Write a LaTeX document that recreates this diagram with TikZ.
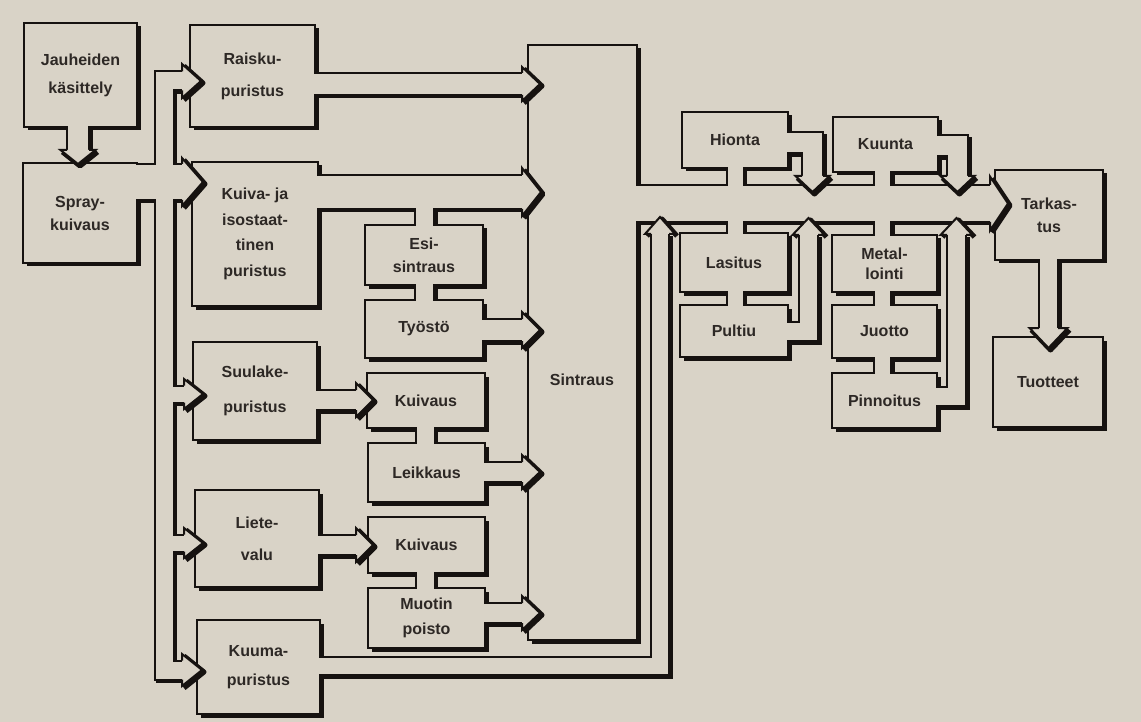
\documentclass[tikz,border=0pt]{standalone}
\usepackage{fontspec}
\setmainfont{Liberation Sans}
\usetikzlibrary{shadows}
\definecolor{paper}{RGB}{217,211,199}
\definecolor{ink}{RGB}{22,18,16}
\definecolor{txt}{RGB}{45,40,37}
\pgfdeclarelayer{pipeA}\pgfdeclarelayer{pipeB}\pgfdeclarelayer{pipeD}\pgfdeclarelayer{arrows}
\pgfsetlayers{pipeA,pipeB,main,pipeD,arrows}
\newcommand\txtfont[1]{\bfseries\fontsize{16}{#1}\selectfont}
\newcommand\mybox[7][24]{%
 \pgfmathsetmacro\bw{#5-#3}\pgfmathsetmacro\bh{#6-#4}%
 \node[box, font={\txtfont{#1}}, minimum width=\bw pt, minimum height=\bh pt] (#2) at ({(#3+#5)/2},{(#4+#6)/2}) {#7};}
\newcommand\myhead[6]{%
 \draw[ink, line width=5pt, line join=round, shift={(#1+2,#2+2)}, rotate=#3] (0,-#5) -- (#6,0) -- (0,#5);
 \fill[paper, shift={(#1,#2)}, rotate=#3] (0,-#5) -- (#6,0) -- (0,#5) -- cycle;
 \draw[wall, shift={(#1,#2)}, rotate=#3] (0,-#4-1) -- (0,-#5) -- (#6,0) -- (0,#5) -- (0,#4+1);}
\def\allpipes{%
 \pq{20}{(78,118) -- (78,150)}%
 \pq{34}{(128,182) -- (182,182)}%
 \pq{17}{(182,81) -- (164,81) -- (164,670) -- (182,670)}%
 \pq{15}{(164,394) -- (184,394)}%
 \pq{15}{(164,543) -- (184,543)}%
 \pq{20}{(307,84) -- (522,84)}%
 \pq{32}{(310,192) -- (522,192)}%
 \pq{17}{(424.5,200) -- (424.5,232)}%
 \pq{17}{(424.5,278) -- (424.5,307)}%
 \pq{20}{(476,330) -- (522,330)}%
 \pq{18}{(309,400) -- (356,400)}%
 \pq{17}{(425,421) -- (425,450)}%
 \pq{18}{(477,472) -- (522,472)}%
 \pq{18}{(311,545) -- (356,545)}%
 \pq{17}{(425,566) -- (425,595)}%
 \pq{18}{(477,613) -- (522,613)}%
 \pq{16}{(312,666) -- (660,666) -- (660,234)}%
 \pq{35}{(628,203.5) -- (990,203.5)}%
 \pq{15}{(735,160) -- (735,195)}%
 \pq{15}{(735,210) -- (735,241)}%
 \pq{15}{(735,284) -- (735,313)}%
 \pq{19}{(780,143) -- (812.5,143) -- (812.5,176)}%
 \pq{15}{(882.5,165) -- (882.5,195)}%
 \pq{19}{(930,146) -- (957.5,146) -- (957.5,176)}%
 \pq{15}{(882.5,210) -- (882.5,243)}%
 \pq{15}{(882.5,284) -- (882.5,313)}%
 \pq{15}{(882.5,350) -- (882.5,381)}%
 \pq{17}{(780,331.5) -- (808.5,331.5) -- (808.5,235)}%
 \pq{17}{(930,396.5) -- (956.5,396.5) -- (956.5,235)}%
 \pq{17}{(1048.5,252) -- (1048.5,328)}%
}
\begin{document}
\begin{tikzpicture}[x=1pt,y=-1pt, line join=miter, line cap=butt,
  box/.style={draw=ink, fill=paper, line width=2pt, align=center, text=txt, inner sep=1pt,
    drop shadow={shadow xshift=3.5pt, shadow yshift=-3.5pt, fill=ink, opacity=1}},
  wall/.style={draw=ink, line width=2pt}]
\useasboundingbox (0,0) rectangle (1141,722);
\begin{pgfonlayer}{pipeA}
 \fill[paper] (0,0) rectangle (1141,722);
 \def\pq#1#2{\draw[ink, line width=#1pt+4pt, shift={(2.5,2.5)}] #2;}
 \allpipes
\end{pgfonlayer}
\begin{pgfonlayer}{pipeB}
 \def\pq#1#2{\draw[ink, line width=#1pt+4pt] #2;}
 \allpipes
\end{pgfonlayer}
\begin{pgfonlayer}{pipeD}
 \def\pq#1#2{\draw[paper, line width=#1pt] #2;}
 \allpipes
\end{pgfonlayer}
% boxes
\mybox[28]{jauh}{24}{23}{137}{127}{Jauheiden\\käsittely}
\mybox[23]{spray}{23}{163}{137}{263}{Spray-\\kuivaus}
\mybox[32]{raisku}{190}{25}{315}{127}{Raisku-\\puristus}
\mybox[25.5]{kuivaiso}{192}{162}{318}{306}{Kuiva- ja\\isostaat-\\tinen\\puristus}
\mybox[35]{suulake}{193}{342}{317}{440}{Suulake-\\puristus}
\mybox[32]{liete}{195}{490}{319}{587}{Liete-\\valu}
\mybox[29]{kuuma}{197}{620}{320}{714}{Kuuma-\\puristus}
\mybox[23]{esi}{365}{225}{483}{285}{Esi-\\sintraus}
\mybox{tyosto}{365}{300}{483}{358}{Työstö}
\mybox{kuiv1}{367}{373}{485}{428}{Kuivaus}
\mybox{leik}{368}{443}{485}{502}{Leikkaus}
\mybox{kuiv2}{368}{517}{485}{573}{Kuivaus}
\mybox[25]{muotin}{368}{588}{485}{648}{Muotin\\poisto}
\mybox{sintr}{528}{45}{637}{640}{}
\mybox{hionta}{682}{112}{788}{168}{Hionta}
\mybox{kuunta}{833}{117}{938}{172}{Kuunta}
\mybox{lasitus}{680}{233}{788}{292}{Lasitus}
\mybox{pultiu}{680}{305}{788}{357}{Pultiu}
\mybox[20]{metal}{832}{235}{937}{292}{Metal-\\lointi}
\mybox{juotto}{832}{305}{937}{358}{Juotto}
\mybox{pinn}{832}{373}{937}{428}{Pinnoitus}
\mybox[23]{tark}{995}{170}{1103}{260}{Tarkas-\\tus}
\mybox{tuott}{993}{337}{1103}{427}{Tuotteet}
\node[font={\txtfont{24}}, text=txt] (sintrtxt) at (582,380) {Sintraus};
\begin{pgfonlayer}{arrows}
 \myhead{78}{150}{-90}{10}{17.5}{14}
 \myhead{182}{182}{0}{17}{24}{21}
 \myhead{182}{81}{0}{8.5}{17}{19}
 \myhead{184}{394}{0}{7.5}{15}{19}
 \myhead{184}{543}{0}{7.5}{15}{19}
 \myhead{182}{670}{0}{8.5}{16}{20}
 \myhead{522}{84}{0}{10}{17}{18}
 \myhead{522}{192}{0}{16}{24}{19}
 \myhead{522}{330}{0}{10}{18}{18}
 \myhead{356}{400}{0}{9}{17}{17}
 \myhead{522}{472}{0}{9}{17}{18}
 \myhead{356}{545}{0}{9}{17}{17}
 \myhead{522}{613}{0}{9}{17}{18}
 \myhead{660}{234}{90}{8}{15}{17}
 \myhead{812.5}{176}{-90}{9.5}{17}{16}
 \myhead{957.5}{176}{-90}{9.5}{17}{16}
 \myhead{808.5}{235}{90}{8.5}{16}{17}
 \myhead{956.5}{235}{90}{8.5}{16}{17}
 \myhead{990}{203.5}{0}{17.5}{27}{18}
 \myhead{1048.5}{328}{-90}{8.5}{19}{20}
\end{pgfonlayer}
\end{tikzpicture}
\end{document}
